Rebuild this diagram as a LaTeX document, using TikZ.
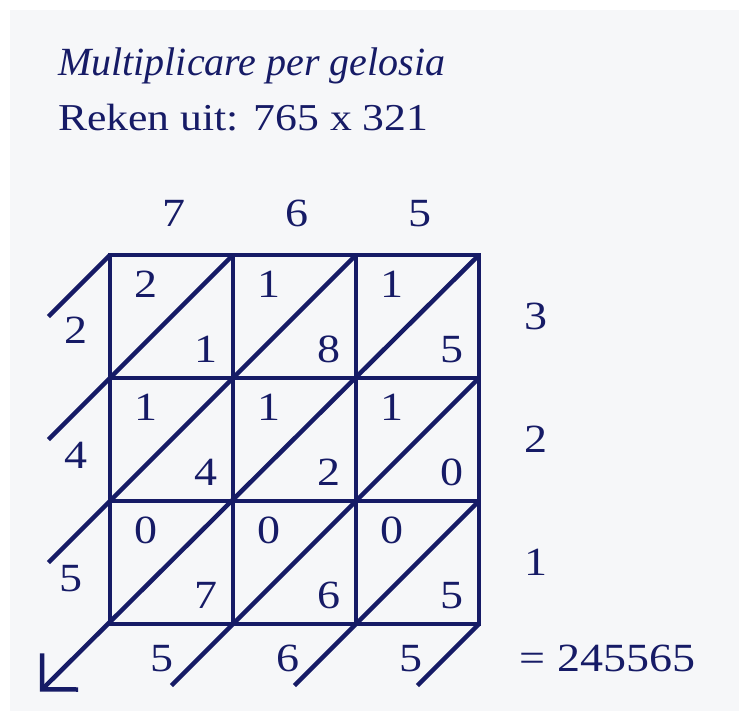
\documentclass[tikz,border=0pt]{standalone}
\usepackage{fontspec}
\setmainfont{Liberation Serif}[FakeStretch=1.15]
\newfontfamily\headslant{Liberation Serif Italic}
\usepackage{xcolor}
\usetikzlibrary{arrows.meta}
\definecolor{inkblue}{HTML}{161B66}
\definecolor{paper}{HTML}{F6F7F9}

\tikzset{
  lattice/.style={draw=inkblue, line width=4.5pt},
  digit/.style={text=inkblue, inner sep=0pt, font=\fontsize{40}{40}\selectfont},
  heading/.style={text=inkblue, anchor=base west, inner sep=0pt, font=\fontsize{38}{40}\selectfont},
}

\begin{document}
\begin{tikzpicture}[x=123pt, y=-123pt]
  % paper
  \fill[white] (-0.894,-2.073) rectangle (5.114,3.707);
  \fill[paper] (-0.81,-1.99) rectangle (5.114,3.707);
  \useasboundingbox (-0.894,-2.073) rectangle (5.114,3.707);

  % heading
  \node[heading, font=\fontsize{40}{40}\headslant] (title) at (-0.423,-1.463) {Multiplicare per gelosia};
  \node[heading] (task) at (-0.423,-1.016) {Reken uit: 765 x 321};

  % corners of the lattice
  \foreach \i in {0,...,3}
    \foreach \j in {0,...,3}
      \coordinate (c-\i-\j) at (\i,\j);

  % frame and inner lines
  \draw[lattice, line join=miter] (c-0-0) rectangle (c-3-3);
  \foreach \i in {1,2} {
    \draw[lattice] (c-\i-0) -- (c-\i-3);
    \draw[lattice] (c-0-\i) -- (c-3-\i);
  }

  % diagonals, running out of the lattice
  \coordinate (e0) at (-0.5,0.5);
  \coordinate (e1) at (-0.5,1.5);
  \coordinate (e2) at (-0.5,2.5);
  \coordinate (tip) at (-0.57,3.55);
  \coordinate (e4) at (0.5,3.5);
  \coordinate (e5) at (1.5,3.5);
  \coordinate (e6) at (2.5,3.5);
  \draw[lattice] (c-0-0) -- (e0);
  \draw[lattice] (c-1-0) -- (e1);
  \draw[lattice] (c-2-0) -- (e2);
  \draw[lattice, -{Straight Barb[angle=90:36pt]}] (c-3-0) -- (tip);
  \draw[lattice] (c-3-1) -- (e4);
  \draw[lattice] (c-3-2) -- (e5);
  \draw[lattice] (c-3-3) -- (e6);

  % products in the cells
  \foreach \c/\r/\hi/\lo in {0/0/2/1, 1/0/1/8, 2/0/1/5,
                             0/1/1/4, 1/1/1/2, 2/1/1/0,
                             0/2/0/7, 1/2/0/6, 2/2/0/5} {
    \node[digit] (hi-\c-\r) at (\c+0.29,\r+0.24) {\hi};
    \node[digit] (lo-\c-\r) at (\c+0.78,\r+0.77) {\lo};
  }

  % factors
  \foreach \c/\d in {0/7, 1/6, 2/5}
    \node[digit] (top-\c) at (\c+0.52,-0.34) {\d};
  \foreach \r/\d in {0/3, 1/2, 2/1}
    \node[digit] (right-\r) at (3.46,\r+0.5) {\d};

  % sums along the diagonals
  \node[digit] (sum-1) at (-0.28,0.61) {2};
  \node[digit] (sum-2) at (-0.28,1.63) {4};
  \node[digit] (sum-3) at (-0.32,2.63) {5};
  \node[digit] (sum-4) at (0.42,3.28) {5};
  \node[digit] (sum-5) at (1.45,3.28) {6};
  \node[digit] (sum-6) at (2.45,3.28) {5};
  \node[digit, anchor=west] (result) at (3.33,3.28) {= 245565};
\end{tikzpicture}
\end{document}
